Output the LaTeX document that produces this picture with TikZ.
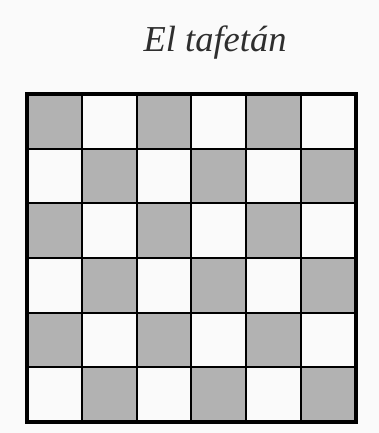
\documentclass[tikz,border=0pt]{standalone}
\usepackage{fontspec}
\setmainfont{Liberation Serif}
\definecolor{telagris}{HTML}{B2B2B2}
\definecolor{fondo}{HTML}{FAFAFA}
\definecolor{tinta}{HTML}{2E2E2E}
\tikzset{
  hilo/.style={line width=2pt, black},
  marco/.style={line width=3.2pt, black}
}
\begin{document}
\begin{tikzpicture}[x=1pt, y=-1pt]
    % Fondo
    \fill[fondo] (0,0) rectangle (379,433);
    \useasboundingbox (0,0) rectangle (379,433);

    % Título
    \node[anchor=base, text=tinta, font=\itshape\fontsize{36.5}{40}\selectfont] (titulo) at (215,52) {El tafetán};

    % Casillas grises del tejido
    \foreach \i in {0,...,5}
      \foreach \j in {0,...,5} {
        \pgfmathtruncatemacro{\paridad}{mod(\i+\j,2)}
        \ifnum\paridad=0
          \fill[telagris] (27+54.83*\i, 94+54.67*\j) rectangle ++(54.83,54.67);
        \fi
      }

    % Líneas interiores
    \foreach \k in {1,...,5} {
      \draw[hilo] (27+54.83*\k, 94) -- (27+54.83*\k, 422);
      \draw[hilo] (27, 94+54.67*\k) -- (356, 94+54.67*\k);
    }

    % Marco exterior
    \draw[marco] (27,94) rectangle (356,422);
\end{tikzpicture}
\end{document}
